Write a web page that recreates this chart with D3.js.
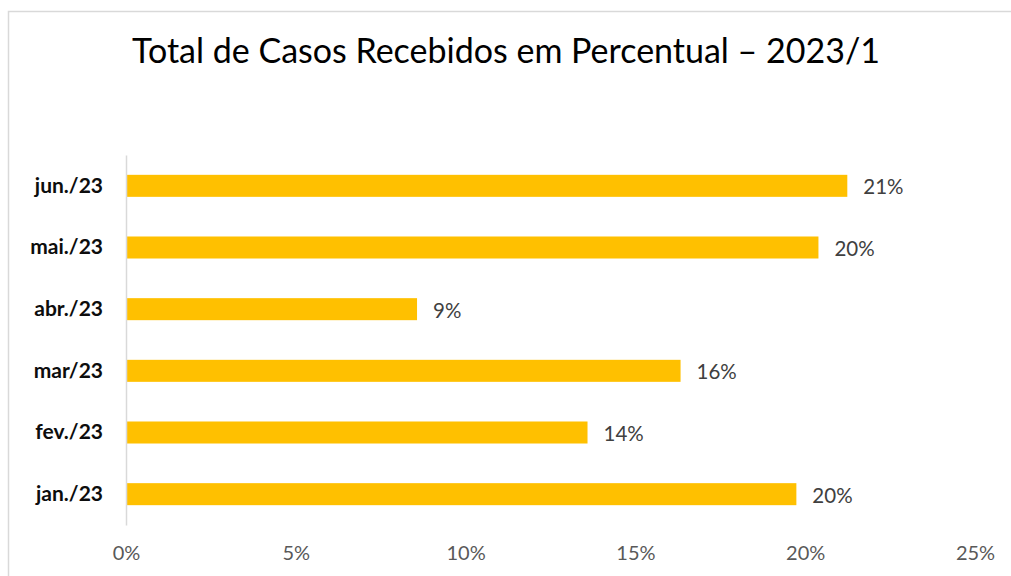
<!DOCTYPE html>
<html>
<head>
<meta charset="utf-8">
<script src="https://cdn.jsdelivr.net/npm/d3@7"></script>
<style>
  html, body { margin: 0; padding: 0; background: #fff; }
  svg { display: block; }
</style>
</head>
<body>
<svg id="chart" width="1011" height="576"></svg>
<script>
// Monthly share of received cases, first half of 2023 (top to bottom)
const months = ["jun./23", "mai./23", "abr./23", "mar/23", "fev./23", "jan./23"];
const shares = [0.2124, 0.2039, 0.0857, 0.1633, 0.1359, 0.1974];
const xTicks = [0, 0.05, 0.10, 0.15, 0.20, 0.25];
const title = "Total de Casos Recebidos em Percentual – 2023/1";

const data = months.map((m, i) => ({ month: m, value: shares[i] }));

const svg = d3.select("#chart");
const font = "Lato, 'Open Sans', sans-serif";

// chart area frame
svg.append("rect")
  .attr("x", 8.5).attr("y", 11.5)
  .attr("width", 1020).attr("height", 600)
  .attr("fill", "#fff")
  .attr("stroke", "#d9d9d9")
  .attr("stroke-width", 1.5);

svg.append("text")
  .attr("x", 506).attr("y", 63)
  .attr("text-anchor", "middle")
  .attr("font-family", font)
  .attr("font-size", 34)
  .attr("fill", "#000")
  .text(title);

const x = d3.scaleLinear().domain([0, 0.25]).range([126, 975]);
const y = d3.scaleBand()
  .domain(months)
  .range([155, 525])
  .paddingInner(0.643)
  .paddingOuter(0.3215);

// bars
svg.append("g").selectAll("rect")
  .data(data)
  .join("rect")
  .attr("x", x(0) + 1)
  .attr("y", d => y(d.month))
  .attr("width", d => x(d.value) - x(0) - 1)
  .attr("height", y.bandwidth())
  .attr("fill", "#ffc000");

// value labels
const pct = d3.format(".0%");
svg.append("g").selectAll("text")
  .data(data)
  .join("text")
  .attr("x", d => x(d.value) + 16)
  .attr("y", d => y(d.month) + y.bandwidth() / 2 + 1)
  .attr("dy", "0.36em")
  .attr("font-family", font)
  .attr("font-size", 20.5)
  .attr("fill", "#404040")
  .text(d => pct(d.value));

// category axis
const yAxis = svg.append("g")
  .attr("transform", `translate(${x(0)},0)`)
  .call(d3.axisLeft(y).tickSize(0).tickPadding(23));
yAxis.select(".domain").attr("stroke", "#d9d9d9").attr("stroke-width", 1.5);
yAxis.selectAll("text")
  .attr("font-family", font)
  .attr("font-size", 21)
  .attr("font-weight", "bold")
  .attr("fill", "#0d0d0d");

// value axis (labels only)
const xAxis = svg.append("g")
  .attr("transform", "translate(0,546)")
  .call(d3.axisBottom(x).tickValues(xTicks).tickFormat(d3.format(".0%")).tickSize(0).tickPadding(0));
xAxis.select(".domain").remove();
xAxis.selectAll("text")
  .attr("font-family", font)
  .attr("font-size", 20)
  .attr("fill", "#595959");
</script>
</body>
</html>
